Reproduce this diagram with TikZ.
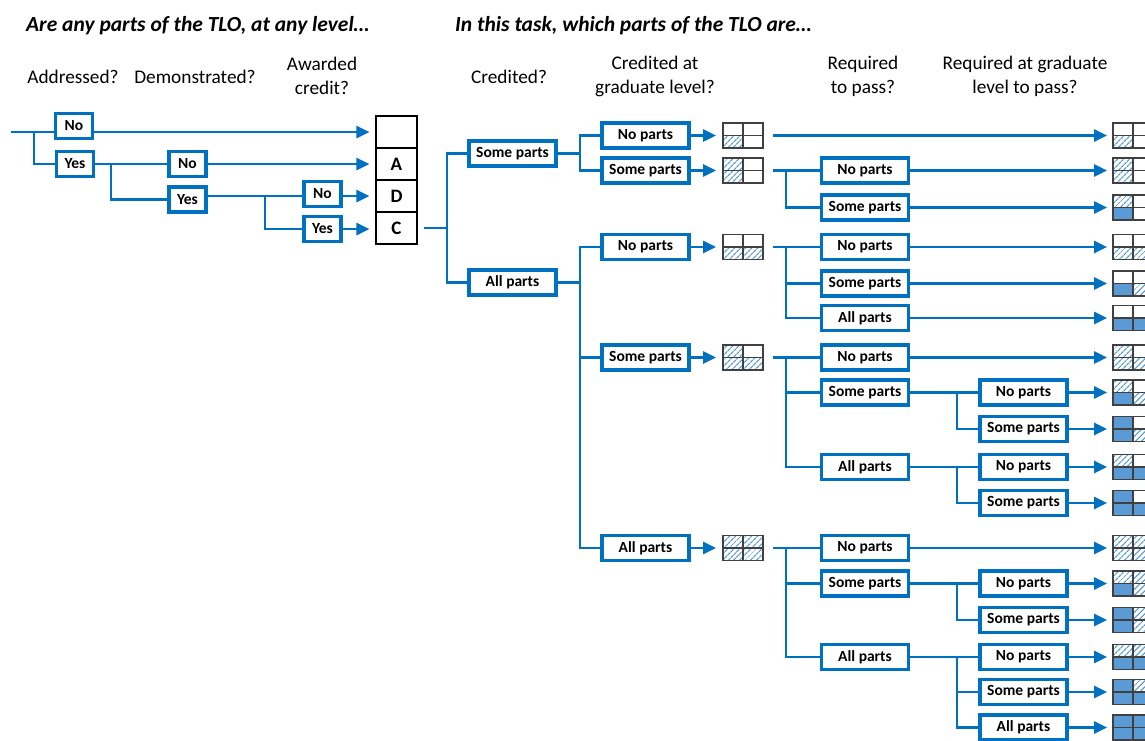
\documentclass[tikz,border=0pt]{standalone}
\usepackage{fontspec}
\setmainfont{Carlito}
\usetikzlibrary{arrows.meta,patterns.meta,calc}
\definecolor{tblue}{HTML}{0070C0}
\definecolor{cellblue}{HTML}{5B9BD5}
\definecolor{hatchblue}{HTML}{5B9BD5}
\definecolor{icongray}{HTML}{404040}
\newcommand\tlocellpath[3]{\ifcase#1\relax\or\path[hatchcell] #2 rectangle #3;\or\path[fill=cellblue] #2 rectangle #3;\fi}
\newcommand\tloicon[6]{%
  \node[iconnode] (#1) at (#2) {};
  \tlocellpath{#3}{([xshift=-20pt,yshift=12.5pt]#1.center)}{(#1.center)}
  \tlocellpath{#4}{([yshift=12.5pt]#1.center)}{([xshift=20pt]#1.center)}
  \tlocellpath{#5}{([xshift=-20pt]#1.center)}{([yshift=-12.5pt]#1.center)}
  \tlocellpath{#6}{(#1.center)}{([xshift=20pt,yshift=-12.5pt]#1.center)}
  \draw[iconline] (#1.north west) rectangle (#1.south east);
  \draw[iconline] (#1.north) -- (#1.south) (#1.west) -- (#1.east);
}
\begin{document}
\begin{tikzpicture}[x=1pt,y=-1pt,
  conn/.style={draw=tblue,line width=2.6pt},
  arr/.style={conn,-{Triangle[length=13pt,width=12pt]},shorten >=6pt},
  yn/.style={draw=tblue,line width=3.2pt,fill=white,minimum width=37pt,minimum height=25pt,inner sep=0pt,font=\bfseries\fontsize{15.5}{18}\selectfont},
  pb/.style={yn,minimum width=87pt},
  colcell/.style={draw=black,line width=1.1pt,minimum width=41pt,minimum height=32pt,inner sep=0pt,font=\bfseries\fontsize{19}{20}\selectfont},
  hdr/.style={font=\fontsize{19.3}{24}\selectfont,align=center,inner sep=0pt},
  ttl/.style={font=\bfseries\itshape\fontsize{21.5}{24}\selectfont,anchor=west,inner sep=0pt},
  iconnode/.style={minimum width=40pt,minimum height=25pt,inner sep=0pt,outer sep=0pt},
  iconline/.style={draw=icongray,line width=1.3pt},
  hatchcell/.style={pattern={Lines[angle=45,distance=4pt,line width=1.3pt]},pattern color=hatchblue}
]
\useasboundingbox (0,0) rectangle (1145,740);
\clip (0,0) rectangle (1145,740);

% headers
\node[ttl] (t1) at (26,26) {Are any parts of the TLO, at any level…};
\node[ttl] (t2) at (455,26) {In this task, which parts of the TLO are…};
\node[hdr] (h1) at (73,77) {Addressed?};
\node[hdr] (h2) at (195,77) {Demonstrated?};
\node[hdr] (h3) at (322,76) {Awarded\\credit?};
\node[hdr] (h4) at (509,77) {Credited?};
\node[hdr] (h5) at (655,76) {Credited at\\graduate level?};
\node[hdr] (h6) at (863,76) {Required\\to pass?};
\node[hdr] (h7) at (1025,76) {Required at graduate\\level to pass?};

% result column
\node[colcell] (blank) at (396.5,132) {};
\node[colcell] (cA) at (396.5,164) {A};
\node[colcell] (cD) at (396.5,196) {D};
\node[colcell] (cC) at (396.5,228) {C};

% left tree
\node[yn] (aNo) at (74,126) {No};
\node[yn] (aYes) at (75,164) {Yes};
\node[yn] (bNo) at (187.5,164) {No};
\node[yn] (bYes) at (187.5,199.5) {Yes};
\node[yn] (cNo) at (322.5,194) {No};
\node[yn] (cYes) at (322.5,229) {Yes};

\coordinate (s0) at (11,132);
\coordinate (j1) at (34,132);
\coordinate (j2) at (111,164);
\coordinate (j3) at (265,196);
\draw[conn] (s0) -- (aNo.west |- s0);
\draw[conn] (j1) |- (aYes.west);
\draw[arr] (aNo.east |- s0) -- (blank.west);
\draw[conn] (aYes.east) -- (bNo.west);
\draw[conn] (j2) |- (bYes.west);
\draw[arr] (bNo.east) -- (cA.west);
\draw[conn] (bYes.east |- cD) -- (cNo.west |- cD);
\draw[conn] (j3) |- (cYes.west);
\draw[arr] (cNo.east |- cD) -- (cD.west);
\draw[arr] (cYes.east) -- (cYes.east -| cC.west);

% credited
\node[pb] (L1some) at (512.5,153.5) {Some parts};
\node[pb] (L1all) at (512.5,282.5) {All parts};
\coordinate (k1) at (447,228);
\draw[conn] ([xshift=6pt]cC.east) -- (k1);
\draw[conn] (k1) |- (L1some.west);
\draw[conn] (k1) |- (L1all.west);

% credited at graduate level
\node[pb] (G1no) at (645.5,135.5) {No parts};
\node[pb] (G1some) at (645.5,170.5) {Some parts};
\node[pb] (G2no) at (645.5,247) {No parts};
\node[pb] (G2some) at (645.5,357.5) {Some parts};
\node[pb] (G2all) at (645.5,548) {All parts};
\coordinate (k2) at (580,153.5);
\coordinate (k3) at (580,282.5);
\draw[conn] (L1some.east) -- (k2);
\draw[conn] (k2) |- (G1no.west);
\draw[conn] (k2) |- (G1some.west);
\draw[conn] (L1all.east) -- (k3);
\draw[conn] (k3) |- (G2no.west);
\draw[conn] (k3) |- (G2some.west);
\draw[conn] (k3) |- (G2all.west);

\tloicon{I1}{743,135.5}{0}{0}{1}{0}
\tloicon{I2}{743,170.5}{1}{0}{1}{0}
\tloicon{I3}{743,247}{0}{0}{1}{1}
\tloicon{I4}{743,357.5}{1}{0}{1}{1}
\tloicon{I5}{743,548}{1}{1}{1}{1}
\draw[arr,shorten >=7pt] (G1no.east) -- (I1.west);
\draw[arr,shorten >=7pt] (G1some.east) -- (I2.west);
\draw[arr,shorten >=7pt] (G2no.east) -- (I3.west);
\draw[arr,shorten >=7pt] (G2some.east) -- (I4.west);
\draw[arr,shorten >=7pt] (G2all.east) -- (I5.west);

% required to pass
\node[pb] (R1no) at (865,170.5) {No parts};
\node[pb] (R1some) at (865,207.5) {Some parts};
\node[pb] (R2no) at (865,247) {No parts};
\node[pb] (R2some) at (865,283.5) {Some parts};
\node[pb] (R2all) at (865,318) {All parts};
\node[pb] (R3no) at (865,357.5) {No parts};
\node[pb] (R3some) at (865,392.5) {Some parts};
\node[pb] (R3all) at (865,467) {All parts};
\node[pb] (R4no) at (865,548) {No parts};
\node[pb] (R4some) at (865,583.5) {Some parts};
\node[pb] (R4all) at (865,657) {All parts};
\coordinate (m2) at (786,170.5);
\coordinate (m3) at (786,247);
\coordinate (m4) at (786,357.5);
\coordinate (m5) at (786,548);
\draw[conn] ([xshift=10pt]I2.east) -- (R1no.west);
\draw[conn] (m2) |- (R1some.west);
\draw[conn] ([xshift=10pt]I3.east) -- (R2no.west);
\draw[conn] (m3) |- (R2some.west);
\draw[conn] (m3) |- (R2all.west);
\draw[conn] ([xshift=10pt]I4.east) -- (R3no.west);
\draw[conn] (m4) |- (R3some.west);
\draw[conn] (m4) |- (R3all.west);
\draw[conn] ([xshift=10pt]I5.east) -- (R4no.west);
\draw[conn] (m5) |- (R4some.west);
\draw[conn] (m5) |- (R4all.west);

% required at graduate level to pass
\node[pb] (Q1no) at (1023.5,392.5) {No parts};
\node[pb] (Q1some) at (1023.5,429) {Some parts};
\node[pb] (Q2no) at (1023.5,467) {No parts};
\node[pb] (Q2some) at (1023.5,503) {Some parts};
\node[pb] (Q3no) at (1023.5,583.5) {No parts};
\node[pb] (Q3some) at (1023.5,620) {Some parts};
\node[pb] (Q4no) at (1023.5,657) {No parts};
\node[pb] (Q4some) at (1023.5,692) {Some parts};
\node[pb] (Q4all) at (1023.5,727.5) {All parts};
\coordinate (n1) at (957,392.5);
\coordinate (n2) at (957,467);
\coordinate (n3) at (957,583.5);
\coordinate (n4) at (957,657);
\draw[conn] (R3some.east) -- (Q1no.west);
\draw[conn] (n1) |- (Q1some.west);
\draw[conn] (R3all.east) -- (Q2no.west);
\draw[conn] (n2) |- (Q2some.west);
\draw[conn] (R4some.east) -- (Q3no.west);
\draw[conn] (n3) |- (Q3some.west);
\draw[conn] (R4all.east) -- (Q4no.west);
\draw[conn] (n4) |- (Q4some.west);
\draw[conn] (n4) |- (Q4all.west);

% final icons
\tloicon{F1}{1133,135.5}{0}{0}{1}{0}
\tloicon{F2}{1133,170.5}{1}{0}{1}{0}
\tloicon{F3}{1133,207.5}{1}{0}{2}{0}
\tloicon{F4}{1133,247}{0}{0}{1}{1}
\tloicon{F5}{1133,283.5}{0}{0}{2}{1}
\tloicon{F6}{1133,318}{0}{0}{2}{2}
\tloicon{F7}{1133,357.5}{1}{0}{1}{1}
\tloicon{F8}{1133,392.5}{1}{0}{2}{1}
\tloicon{F9}{1133,429}{2}{0}{2}{1}
\tloicon{F10}{1133,467}{1}{0}{2}{2}
\tloicon{F11}{1133,503}{2}{0}{2}{2}
\tloicon{F12}{1133,548}{1}{1}{1}{1}
\tloicon{F13}{1133,583.5}{1}{1}{2}{1}
\tloicon{F14}{1133,620}{2}{1}{2}{1}
\tloicon{F15}{1133,657}{1}{1}{2}{2}
\tloicon{F16}{1133,692}{2}{1}{2}{2}
\tloicon{F17}{1133,727.5}{2}{2}{2}{2}

\draw[arr] ([xshift=10pt]I1.east) -- (F1.west);
\draw[arr] (R1no.east) -- (F2.west);
\draw[arr] (R1some.east) -- (F3.west);
\draw[arr] (R2no.east) -- (F4.west);
\draw[arr] (R2some.east) -- (F5.west);
\draw[arr] (R2all.east) -- (F6.west);
\draw[arr] (R3no.east) -- (F7.west);
\draw[arr] (Q1no.east) -- (F8.west);
\draw[arr] (Q1some.east) -- (F9.west);
\draw[arr] (Q2no.east) -- (F10.west);
\draw[arr] (Q2some.east) -- (F11.west);
\draw[arr] (R4no.east) -- (F12.west);
\draw[arr] (Q3no.east) -- (F13.west);
\draw[arr] (Q3some.east) -- (F14.west);
\draw[arr] (Q4no.east) -- (F15.west);
\draw[arr] (Q4some.east) -- (F16.west);
\draw[arr] (Q4all.east) -- (F17.west);
\end{tikzpicture}
\end{document}
